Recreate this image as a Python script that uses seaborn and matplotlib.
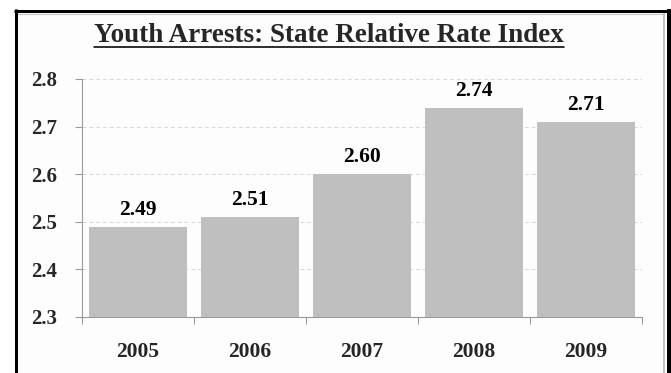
import matplotlib
matplotlib.use("Agg")
import matplotlib.pyplot as plt
import seaborn as sns
import pandas as pd
from matplotlib.lines import Line2D

# data
years = ["2005", "2006", "2007", "2008", "2009"]
rri = [2.49, 2.51, 2.60, 2.74, 2.71]
yticks = [2.3, 2.4, 2.5, 2.6, 2.7, 2.8]

df = pd.DataFrame({"year": years, "rri": rri})

sns.set_theme(style="white")
plt.rcParams["font.family"] = ["Liberation Serif", "DejaVu Serif"]

fig = plt.figure(figsize=(6.71, 3.73), dpi=100)
W, H = 671, 373
pt = 72 / 100  # one pixel in points


def fline(xs, ys, color, lw_px, z=2):
    fig.add_artist(Line2D([x / W for x in xs], [1 - y / H for y in ys],
                          transform=fig.transFigure, color=color,
                          lw=lw_px * pt, zorder=z, solid_capstyle="butt"))


# outer frame
fig.add_artist(plt.Rectangle((16 / W, 0), 652 / W, 1 - 12 / H,
                             transform=fig.transFigure, facecolor="#fdfdfd",
                             edgecolor="none", zorder=0))
fline([663.5, 663.5], [13, 373], "#b0b0b0", 1.5, 1)
fline([17, 664], [13.5, 13.5], "#c8c8c8", 1.2, 1)
fline([15.5, 15.5], [9, 373], "black", 3)
fline([14, 671], [10.5, 10.5], "black", 3)
fline([669, 669], [9, 373], "black", 4)

ax = fig.add_axes([82 / W, 1 - 317 / H, (642 - 82) / W, (317 - 79) / H])
ax.set_facecolor("none")

sns.barplot(data=df, x="year", y="rri", color="#bfbfbf", width=0.875,
            saturation=1, linewidth=0, ax=ax, zorder=3)

ax.set_ylim(2.3, 2.8)
ax.set_yticks(yticks)
ax.set_yticklabels([f"{v:.1f}" for v in yticks])
ax.set_xlim(-0.5, 4.5)
ax.set_xlabel("")
ax.set_ylabel("")

for y in yticks[1:]:
    ax.axhline(y, color="#d8d8d8", lw=0.7, ls=(0, (4, 3)), zorder=1)

for i, v in enumerate(rri):
    ax.text(i, v + 0.025, f"{v:.2f}", ha="center", va="baseline",
            fontsize=15.5, fontweight="bold", color="black")

for s in ["top", "right"]:
    ax.spines[s].set_visible(False)
for s in ["left", "bottom"]:
    ax.spines[s].set_color("#9a9a9a")
    ax.spines[s].set_linewidth(0.8)

ax.tick_params(axis="y", which="major", left=True, length=5, width=0.8,
               color="#9a9a9a", labelsize=15, pad=13)
ax.set_xticks([-0.5, 0.5, 1.5, 2.5, 3.5, 4.5], minor=True)
ax.tick_params(axis="x", which="major", bottom=False, labelsize=15.5, pad=12)
ax.tick_params(axis="x", which="minor", bottom=True, length=5, width=0.8, color="#9a9a9a")
for lab in ax.get_xticklabels() + ax.get_yticklabels():
    lab.set_fontweight("bold")

# underlined title
title = fig.text(329 / W, 1 - 42 / H, "Youth Arrests: State Relative Rate Index",
                 ha="center", va="baseline", fontsize=19.5, fontweight="bold")
fig.canvas.draw()
bb = title.get_window_extent().transformed(fig.transFigure.inverted())
uy = 1 - 46.5 / H
fig.add_artist(Line2D([bb.x0, bb.x1], [uy, uy], transform=fig.transFigure,
                      color="black", lw=1.6 * pt))

fig.savefig("out.png", dpi=100)
